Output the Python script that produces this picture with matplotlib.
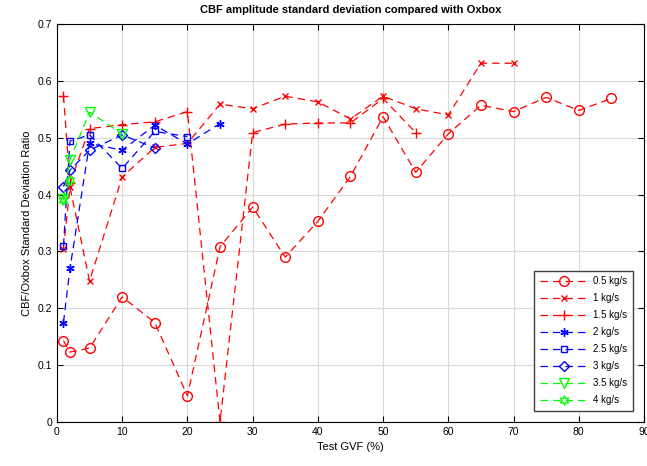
import matplotlib
matplotlib.use('Agg')
from matplotlib import pyplot as plt

plt.rcParams['font.family'] = ['Liberation Sans', 'DejaVu Sans']

# Данные (GVF, %)
gvf_05 = [1, 2, 5, 10, 15, 20, 25, 30, 35, 40, 45, 50, 55, 60, 65, 70, 75, 80, 85]
ratio_05 = [0.143, 0.123, 0.130, 0.220, 0.175, 0.046, 0.308, 0.378, 0.290, 0.353,
            0.432, 0.537, 0.439, 0.507, 0.557, 0.546, 0.571, 0.548, 0.569]

gvf_1 = [1, 2, 5, 10, 15, 20, 25, 30, 35, 40, 45, 50, 55, 60, 65, 70]
ratio_1 = [0.305, 0.413, 0.248, 0.431, 0.483, 0.490, 0.559, 0.551, 0.573, 0.563,
           0.533, 0.573, 0.551, 0.540, 0.631, 0.631]

gvf_15 = [1, 2, 5, 10, 15, 20, 25, 30, 35, 40, 45, 50, 55]
ratio_15 = [0.574, 0.420, 0.516, 0.523, 0.528, 0.546, 0.0, 0.509, 0.524, 0.526,
            0.526, 0.569, 0.509]

gvf_2 = [1, 2, 5, 10, 15, 20, 25]
ratio_2 = [0.175, 0.270, 0.490, 0.478, 0.522, 0.489, 0.525]

gvf_25 = [1, 2, 5, 10, 15, 20]
ratio_25 = [0.310, 0.494, 0.505, 0.446, 0.511, 0.502]

gvf_3 = [1, 2, 5, 10, 15]
ratio_3 = [0.414, 0.443, 0.478, 0.505, 0.482]

gvf_35 = [1, 2, 5, 10]
ratio_35 = [0.393, 0.461, 0.545, 0.507]

gvf_4 = [1, 2]
ratio_4 = [0.390, 0.425]

fig = plt.figure(figsize=(6.47, 4.66), dpi=100)
ax = fig.add_axes([0.088, 0.0944, 0.9074, 0.8541])

dash = (0, (6, 4))
kw = dict(linestyle=dash, linewidth=0.9, markerfacecolor='none',
          markeredgewidth=1.0)

ax.plot(gvf_05, ratio_05, color='red', marker='o', markersize=7, label='0.5 kg/s', **kw)
ax.plot(gvf_1, ratio_1, color='red', marker='x', markersize=5, label='1 kg/s', **kw)
ax.plot(gvf_15, ratio_15, color='red', marker='+', markersize=7, label='1.5 kg/s', **kw)
ax.plot(gvf_2, ratio_2, color='blue', marker=(6, 2, 0), markersize=6, label='2 kg/s', **kw)
ax.plot(gvf_25, ratio_25, color='blue', marker='s', markersize=5, label='2.5 kg/s', **kw)
ax.plot(gvf_3, ratio_3, color='blue', marker='D', markersize=5.5, label='3 kg/s', **kw)
ax.plot(gvf_35, ratio_35, color='#00ff00', marker='v', markersize=7, label='3.5 kg/s', **kw)
ax.plot(gvf_4, ratio_4, color='#00ff00', marker=(6, 1, 0), markersize=7, label='4 kg/s', **kw)

ax.set_xlim(0, 90)
ax.set_ylim(0, 0.7)
ax.set_xticks(range(0, 91, 10))
ax.set_yticks([0, 0.1, 0.2, 0.3, 0.4, 0.5, 0.6, 0.7])
ax.set_yticklabels(['0', '0.1', '0.2', '0.3', '0.4', '0.5', '0.6', '0.7'])
ax.tick_params(direction='in', top=True, right=True, labelsize=7.5, length=4)
ax.grid(True, color='#d9d9d9', linewidth=0.8)
for s in ax.spines.values():
    s.set_linewidth(0.8)

ax.set_xlabel('Test GVF (%)', fontsize=8)
ax.set_ylabel('CBF/Oxbox Standard Deviation Ratio', fontsize=8)
ax.set_title('CBF amplitude standard deviation compared with Oxbox',
             fontsize=8, fontweight='bold', pad=8)

ax.legend(loc='lower right', bbox_to_anchor=(0.99, 0.015), fontsize=7,
          handlelength=5, fancybox=False, edgecolor='#404040', framealpha=1,
          labelspacing=0.72, borderpad=0.6, handletextpad=0.5)

plt.savefig('out.png', dpi=100)
